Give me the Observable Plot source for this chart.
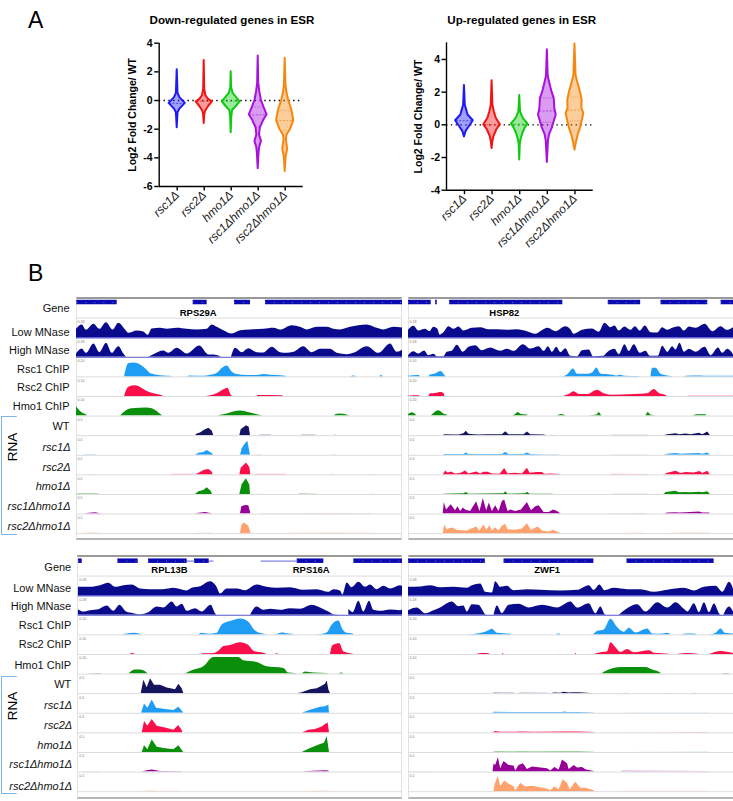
<!DOCTYPE html>
<html><head><meta charset="utf-8">
<script src="https://cdn.jsdelivr.net/npm/d3@7"></script>
<script src="https://cdn.jsdelivr.net/npm/@observablehq/plot@0.6"></script>
<style>
html,body{margin:0;padding:0;background:#fff}
#page{position:relative;width:733px;height:801px;overflow:hidden;font-family:"Liberation Sans",Arial,sans-serif}
.t{position:absolute;white-space:nowrap;color:#000}
.box{position:absolute;box-sizing:border-box;border-top:2px solid #9a9a9a;border-bottom:2px solid #b5b5b5;border-left:1px solid #e2e2e2}
.br{position:absolute;box-sizing:border-box;border:1px solid #7db5e6;border-right:none;border-radius:1px}
svg{position:absolute;background:transparent!important;overflow:visible}
</style></head><body><div id="page"></div>
<script>
// ---------- Panel A values ----------
const genotypes = ["rsc1Δ","rsc2Δ","hmo1Δ","rsc1Δhmo1Δ","rsc2Δhmo1Δ"];
const violinColors = ["#1c1cf2","#f21414","#12c912","#a812dc","#f5870f"];
const downRsc1 = [[2.15,0],[0.5,.03],[0.2,.1],[-0.2,.3],[-0.6,.1],[-0.85,.03],[-1.9,0]];
const downRsc2 = [[2.8,0],[0.8,.02],[0.35,.06],[0.1,.15],[-0.1,.3],[-0.4,.17],[-0.75,.05],[-1.0,.02],[-1.6,0]];
const downHmo1 = [[2,0],[.9,.015],[.5,.07],[.2,.2],[-.1,.33],[-.4,.2],[-.7,.05],[-1.2,.02],[-2.25,0]];
const downR1H = [[3.1,0],[1.2,.02],[.6,.06],[0,.12],[-.5,.22],[-1,.33],[-1.4,.2],[-1.9,.08],[-2.4,.05],[-2.85,.12],[-3.3,.05],[-3.7,.03],[-4.75,0]];
const downR2H = [[2.95,0],[1,.03],[.5,.07],[0,.13],[-.7,.25],[-1.4,.32],[-2,.2],[-2.4,.07],[-2.7,.04],[-3.4,.09],[-4,.03],[-4.95,0]];
const upRsc1 = [[2.4,0],[1.2,.03],[.9,.08],[.6,.13],[.25,.32],[-.1,.18],[-.4,.06],[-.75,0]];
const upRsc2 = [[2.7,0],[1.2,.03],[.8,.08],[.4,.15],[0,.3],[-.3,.17],[-.7,.07],[-1,.03],[-1.45,0]];
const upHmo1 = [[1.8,0],[.8,.03],[.5,.1],[.3,.17],[.05,.3],[-.2,.2],[-.5,.12],[-.9,.05],[-1.2,.02],[-2.15,0]];
const upR1H = [[4.6,0],[3,.03],[2.6,.08],[2,.17],[1.6,.25],[1,.27],[.6,.32],[.2,.25],[-.2,.18],[-.6,.08],[-1,.04],[-2.3,0]];
const upR2H = [[4.95,0],[3,.04],[2.6,.1],[2,.2],[1.5,.26],[1,.25],[.7,.32],[.3,.27],[-.2,.2],[-.6,.12],[-1.1,.05],[-1.55,0]];
// [genotype index, value, half width, kind]
const downQuart = [[0,-.2,.28,"d"],[1,-.05,.28,"d"],[2,-.05,.3,"d"],[3,-1,.33,"d"],[3,-.45,.2,"o"],[3,-1.85,.08,"o"],[4,-1.4,.32,"d"],[4,-.7,.25,"o"],[4,-2.1,.16,"o"]];
const upQuart = [[0,.25,.3,"d"],[1,0,.3,"d"],[2,.05,.3,"d"],[3,.85,.28,"d"],[3,1.65,.24,"o"],[3,.15,.24,"o"],[4,.9,.27,"d"],[4,1.7,.24,"o"],[4,.25,.27,"o"]];

// ---------- Panel B: row names, colours ----------
const trackRows = ["Gene","Low MNase","High MNase","Rsc1 ChIP","Rsc2 ChIP","Hmo1 ChIP","WT","rsc1Δ","rsc2Δ","hmo1Δ","rsc1Δhmo1Δ","rsc2Δhmo1Δ"];
const italicRows = ["rsc1Δ","rsc2Δ","hmo1Δ","rsc1Δhmo1Δ","rsc2Δhmo1Δ"];
const smoothRows = ["Low MNase","High MNase","Rsc1 ChIP","Rsc2 ChIP","Hmo1 ChIP"];
const trackColors = ["#0a0ab0","#0a0a8c","#0a0a8c","#1f9df5","#fb0f4b","#0a8f0a","#14145f","#1f9df5","#fb0f4b","#0a8f0a","#960096","#ffa26e"];
const rangeLabels = ["","0-18","0-18","0-10","0-10","0-10","0-5","0-5","0-5","0-5","0-5","0-5"];

// Signal tracks: flat lists of position, height
const tlLow=[228,25,245,38,258,22,280,40,298,25,318,45,338,23,355,43,375,23,385,13,410,20,430,17,443,7,455,26,480,28,500,25,530,28,560,25,590,23,620,25,635,38,650,31,670,21,695,11,720,21,750,23,790,25,820,28,840,23,875,36,900,31,920,23,950,31,980,31,1000,25,1020,23,1050,31,1100,38,1130,28,1150,23,1180,31,1212,28];
const tlHigh=[228,10,245,25,258,12,280,40,298,14,318,42,335,12,355,32,370,10,378,0,445,0,460,8,490,19,505,12,530,27,560,10,598,34,625,7,640,7,660,2,665,0,693,0,705,27,725,14,745,26,770,14,790,13,815,30,840,14,860,12,880,15,910,32,935,14,960,24,990,24,1010,12,1040,8,1060,12,1100,32,1135,12,1170,40,1190,15,1212,25];
const tlRsc1=[372,0,385,40,400,42,425,33,440,20,450,10,470,5,490,3,510,2,515,0,560,0,570,3,600,2,620,3,650,10,665,25,680,33,695,15,710,7,740,4,770,4,790,7,810,5,850,3,860,0,1050,0,1060,3,1070,0,1138,0,1143,4,1148,0];
const tlRsc2=[372,0,385,28,405,32,420,27,440,15,460,8,485,2,490,0,618,0,650,8,670,20,682,25,693,3,697,0,770,0,772,3,845,2,850,0];
const tlHmo1=[228,28,240,14,258,3,262,0,360,0,375,14,395,22,440,24,465,17,485,2,488,0,650,0,680,6,700,12,720,15,750,9,785,1,790,0,1000,0,1015,6,1045,2,1048,0];
const tlWT=[585,0,590,5,600,8,612,16,625,22,635,14,640,0,718,0,722,18,738,30,746,25,750,0,775,0,780,2,812,2,815,0,900,0,905,2,945,2,948,0,1000,0,1004,3,1008,0];
const tlR1=[250,0,255,2,285,2,290,0,585,0,595,6,610,8,620,14,635,5,640,0,720,0,725,20,735,35,742,42,750,0,770,0,775,2,785,0,998,0,1002,2,1006,0];
const tlR2=[275,0,280,2,285,0,510,0,515,2,580,2,585,0,585,0,600,7,612,14,625,16,635,9,638,0,718,0,722,20,738,36,748,22,751,0,765,0,770,2,855,2,860,0,990,0,995,2,1010,0,1110,0,1113,2,1116,0];
const tlH=[228,0,232,2,295,2,298,0,585,0,595,8,610,12,620,20,632,10,636,0,718,0,725,30,738,47,748,28,750,0,770,0,775,1,785,0,895,0,900,2,950,1,955,0,1110,0,1115,1,1120,0];
const tlR1H=[255,0,260,2,285,4,300,1,302,0,585,0,590,2,615,5,635,1,637,0,720,0,724,22,735,26,745,25,750,5,751,0,780,0,785,1,1000,2,1120,1,1122,0];
const tlR2H=[255,0,260,2,285,3,295,1,297,0,585,0,590,1,635,2,637,0,720,0,724,25,732,32,745,22,751,3,752,0,860,0,865,1,1000,2,1120,1,1122,0];

const trLow=[24,22,40,34,55,20,75,25,88,18,100,31,112,25,118,8,130,15,145,33,160,25,175,32,190,20,215,28,240,30,265,24,290,24,320,22,350,24,380,18,405,10,420,18,442,28,465,18,495,33,510,24,520,10,545,22,575,26,595,16,612,43,630,30,642,35,655,20,672,32,690,22,703,33,718,20,733,35,750,15,770,14,785,30,800,22,815,28,835,33,850,20,865,32,885,28,912,40,935,18,960,33,978,22,997,30];
const trHigh=[24,5,40,17,55,10,72,19,85,5,100,9,110,2,130,2,140,15,155,18,170,36,188,15,205,30,225,35,245,20,270,28,300,18,320,24,340,18,368,38,390,25,415,32,430,18,443,32,455,15,468,30,480,14,495,26,510,3,530,2,545,20,565,22,578,2,608,3,620,14,642,24,655,8,672,38,685,18,700,38,718,12,735,18,748,3,772,3,785,33,800,15,815,32,825,22,837,42,850,15,865,24,885,15,912,30,930,5,952,28,965,12,980,24,997,8];
const trRsc1=[24,2,55,4,60,0,85,0,90,6,105,9,122,16,132,5,136,0,485,0,500,6,518,24,530,8,560,8,575,12,588,27,600,9,630,6,650,3,660,5,670,2,715,1,716,0,750,0,755,26,765,26,780,8,805,2,815,0,850,0,855,2,900,3,920,2,997,2];
const trRsc2=[24,1,55,2,60,0,85,0,90,8,105,9,122,12,130,9,133,0,488,0,505,6,520,14,535,6,560,6,590,19,610,8,630,4,700,6,740,8,760,21,775,9,795,3,800,0,860,0,865,1,997,1];
const trHmo1=[24,4,35,10,48,2,50,0,92,0,100,8,115,16,130,6,142,1,143,0,328,0,345,5,352,11,362,5,380,3,382,0,470,0,482,5,497,0,563,0,578,2,588,3,595,11,602,2,605,0,735,0,742,11,750,3,770,0,875,0,890,4,915,4,917,0];
const trWT=[130,0,131,3,165,2,175,2,190,6,197,13,205,4,220,3,235,2,260,3,290,3,305,3,315,12,325,3,370,3,380,11,390,3,430,2,440,0,450,1,478,0,632,0,633,1,740,1,741,0,788,0,800,3,825,6,835,3,855,5,870,3,895,7,905,3,920,11,928,0];
const trR1=[130,0,131,2,190,2,197,7,205,2,305,2,315,8,325,2,370,2,380,7,390,2,430,1,475,1,476,0,632,0,633,1,740,1,741,0,790,0,800,3,825,5,840,3,855,4,895,5,905,3,920,7,928,0];
const trR2=[128,0,135,12,143,5,152,9,165,3,180,4,195,12,205,3,228,9,240,3,250,8,262,8,275,3,298,2,312,19,322,3,345,5,365,3,380,20,388,5,410,7,425,7,432,2,450,3,478,1,480,0,625,0,635,2,740,1,741,0,790,0,800,5,825,11,840,4,855,7,880,6,897,10,905,4,920,11,928,0];
const trH=[130,0,131,1,190,2,197,6,205,1,310,2,315,8,322,1,375,2,380,7,388,1,455,1,460,0,635,0,636,1,740,1,741,0,790,0,795,6,825,10,835,5,855,6,870,5,897,7,905,5,920,8,928,0];
const trR1H=[128,0,131,35,138,12,152,28,165,10,172,22,180,8,188,18,195,12,210,8,228,37,238,8,248,47,258,10,266,33,275,8,285,25,295,8,305,38,312,42,322,8,330,12,345,8,362,12,380,35,392,10,405,22,415,25,430,5,445,5,458,12,470,8,480,1,482,0,620,0,625,1,735,2,740,0,790,0,800,3,825,4,835,3,855,4,895,6,905,3,925,3,928,0,945,0,950,1,955,0];
const trR2H=[128,0,132,26,140,12,155,17,170,10,185,9,200,8,228,20,238,8,250,27,258,10,268,24,275,8,285,18,295,8,305,22,315,28,322,12,345,10,365,14,380,30,392,10,412,20,425,8,445,5,458,10,470,5,482,0,660,0,680,1,720,2,730,0,790,0,850,3,928,2,930,0];

const blLow=[233,25,270,25,300,30,325,37,345,25,370,30,395,32,420,20,450,18,490,18,520,22,560,14,575,22,600,27,630,42,648,28,660,5,680,20,710,20,735,15,770,32,800,25,830,22,870,24,910,16,950,18,985,10,1000,18,1020,14,1027,2,1040,38,1055,24,1075,40,1095,25,1110,32,1130,18,1150,28,1170,20,1200,30,1212,25];
const blHigh=[233,17,250,10,270,14,295,17,320,28,340,12,358,30,378,10,400,5,420,2,445,8,470,25,490,22,515,40,530,25,545,33,560,12,585,20,605,10,632,30,645,5,650,0,750,0,770,25,790,15,810,18,840,15,870,20,900,18,935,30,960,22,985,10,1000,2,1030,0,1045,18,1058,8,1075,42,1090,10,1107,42,1120,15,1140,12,1170,16,1200,14,1212,20];
const blRsc1=[365,0,380,3,400,5,420,2,422,0,595,0,605,5,625,2,650,5,665,30,690,40,720,48,745,38,762,15,780,4,795,1,797,0,827,0,845,6,865,3,880,1,882,0,950,0,980,6,995,30,1015,42,1028,15,1040,5,1058,3,1060,0];
const blRsc2=[390,0,395,3,405,0,600,0,610,2,640,3,655,10,670,24,690,27,720,35,745,27,760,10,795,2,797,0,825,0,830,2,835,0,990,0,997,26,1018,32,1030,8,1050,2,1060,0];
const blHmo1=[255,0,300,2,303,0,385,0,405,12,420,12,440,3,442,0,555,0,575,10,610,22,640,50,715,50,730,40,770,35,800,22,850,17,865,3,885,2,890,0,905,0,915,6,940,3,980,2,985,0,1015,0,1025,3,1030,0];
const blWT=[422,0,430,40,440,18,450,45,462,25,480,25,500,17,525,12,535,28,545,15,550,0,890,0,905,3,930,12,950,15,965,22,975,28,980,38,985,12,990,0];
const blR1=[423,0,432,28,442,15,455,40,468,15,490,12,520,8,535,18,548,3,550,0,905,0,930,9,960,18,975,20,985,25,987,0];
const blR2=[425,0,432,34,442,20,455,40,470,20,495,15,520,8,535,22,546,5,547,0,905,0,925,8,945,10,965,18,975,25,983,30,987,0];
const blH=[425,0,432,20,442,8,455,38,470,16,490,12,520,8,535,20,548,2,550,0,905,0,925,10,945,18,960,24,972,28,980,48,987,0];
const blR1H=[245,0,250,1,300,1,302,0,425,0,430,2,440,4,455,6,480,2,545,1,546,0,910,0,920,2,960,3,975,4,985,3,987,0];
const blR2H=[425,0,430,1,455,3,470,1,540,1,542,0,915,0,920,1,985,2,987,0];

const brLow=[24,25,60,26,90,30,120,24,160,25,200,22,215,30,240,35,255,10,275,8,285,42,300,25,320,28,340,15,380,18,420,16,480,14,530,16,565,30,580,16,597,32,612,15,640,22,680,18,720,18,760,10,800,16,850,22,880,14,910,25,945,28,965,10,985,40,997,20];
const brHigh=[24,14,50,22,75,5,100,14,120,22,155,40,175,26,190,28,200,10,215,32,235,30,255,2,258,0,280,0,290,28,305,5,325,30,355,33,385,22,425,30,470,22,510,40,530,22,565,35,585,5,600,25,612,3,618,0,655,0,680,20,710,32,735,10,770,38,800,22,825,38,850,18,860,10,880,35,895,8,910,38,925,8,940,34,955,5,960,0,968,0,985,25,997,10];
const brRsc1=[200,0,240,4,260,10,275,17,290,5,330,2,332,0,465,0,475,3,482,0,578,0,590,10,610,15,630,47,650,22,670,8,685,20,705,6,740,18,755,3,780,2,800,5,810,0,840,0,860,3,885,2,890,0,925,0,945,5,960,18,972,5,997,3];
const brRsc2=[228,0,245,3,265,2,268,0,305,0,307,3,310,0,523,0,525,3,528,0,580,0,600,5,620,8,630,35,645,20,660,6,680,15,700,5,745,11,760,4,805,1,807,0,830,0,860,3,890,1,892,0,925,0,960,9,997,3];
const brHmo1=[602,0,625,12,660,20,735,20,755,12,782,1,783,0,962,0,970,2,985,1,987,0];
const brWT=[277,0,280,3,300,2,340,2,345,0,352,0,360,2,440,1,445,0,452,0,460,2,480,1,490,4,505,2,515,3,535,3,560,1,580,0,660,0,680,1,690,0,790,0,800,1,802,0,860,0,885,1,887,0];
const brR1=[277,0,280,3,330,2,400,2,485,2,492,4,500,2,535,2,580,1,582,0,660,0,710,1,925,1,927,0];
const brR2=[277,0,285,4,300,2,345,2,360,3,400,2,490,3,535,3,580,1,582,0,660,0,920,1,925,0];
const brH=[277,0,285,3,340,2,360,3,400,2,490,3,535,3,580,1,582,0,660,0,925,1,926,0];
const brR1H=[24,0,30,1,90,1,92,0,277,0,280,24,285,20,293,43,300,10,310,32,325,20,340,18,345,3,355,20,368,25,380,8,395,15,440,10,450,3,462,14,475,6,485,36,500,25,505,8,520,20,530,12,545,14,555,7,580,2,582,0,660,0,665,3,925,2,927,0];
const brR2H=[280,0,283,20,293,46,300,15,312,32,325,22,340,15,345,3,360,25,375,14,395,16,440,8,450,3,462,14,475,6,487,36,500,25,508,6,525,28,540,10,555,10,580,3,582,0,660,0,665,1,920,1,922,0];

// Gene models
const tlGenes=[[229,350],[578,620],[702,750],[795,1212]];
const trGenes=[[24,92],[105,110],[147,486],[622,719],[780,920],[960,997]];
const blGenes=[[234,245],[352,413],[444,560],[582,626],[890,970],[1060,1212]];
const brGenes=[[24,254],[310,579],[678,939]];
const blIntrons=[[560,582],[626,640],[782,890]];
const tlNames=[["RPS29A",593]];
const trNames=[["HSP82",311]];
const blNames=[["RPL13B",507],["RPS16A",932]];
const brNames=[["ZWF1",439]];

// ---------- drawing ----------
const page=document.getElementById("page");
const add=(el,l,t)=>{el.style.left=l+"px";el.style.top=t+"px";page.append(el);return el;};
function text(s,l,t,css){const d=document.createElement("div");d.className="t";d.textContent=s;d.style.cssText+=css;return add(d,l,t);}
function box(l,t,w,h,right){const d=document.createElement("div");d.className="box";d.style.width=w+"px";d.style.height=h+"px";if(right)d.style.borderRight="1px solid #e2e2e2";return add(d,l,t);}
function bracket(t,h){const d=document.createElement("div");d.className="br";d.style.width="16px";d.style.height=h+"px";return add(d,1,t);}

function violin(series,quarts,opts){
  const rows=series.flatMap((s,i)=>s.map(([y,w])=>({i,y,w,c:violinColors[i]})));
  const q=quarts.map(([i,y,w,k])=>({i,y,w,k,c:violinColors[i]}));
  const p=Plot.plot({
    width:opts.width,height:opts.height,
    marginLeft:opts.left,marginRight:opts.width-opts.right,marginTop:opts.top,marginBottom:opts.height-opts.bottom,
    style:{fontFamily:'"Liberation Sans",Arial,sans-serif',color:"#000"},
    x:{domain:opts.xd,axis:null},
    y:{domain:opts.yd,axis:null},
    color:{type:"identity"},
    marks:[
      Plot.ruleY([0],{stroke:"#000",strokeWidth:1.4,strokeDasharray:"1.4,3.4"}),
      Plot.areaX(rows,{x1:d=>d.i-d.w,x2:d=>d.i+d.w,y:"y",z:"i",fill:"c",fillOpacity:.42,stroke:"c",strokeWidth:2,curve:"linear"}),
      Plot.ruleY(q.filter(d=>d.k=="d"),{y:"y",x1:d=>d.i-d.w,x2:d=>d.i+d.w,stroke:"c",strokeWidth:.7,strokeDasharray:"2,1.5"}),
      Plot.ruleY(q.filter(d=>d.k=="o"),{y:"y",x1:d=>d.i-d.w,x2:d=>d.i+d.w,stroke:"c",strokeWidth:.6,strokeDasharray:"1,1.5"}),
      Plot.ruleX([opts.xd[0]],{stroke:"#000",strokeWidth:1.4}),
      Plot.ruleY([opts.yd[0]],{stroke:"#000",strokeWidth:1.4}),
      Plot.axisY({ticks:opts.yt,tickSize:4.5,tickPadding:2,strokeWidth:1.4,stroke:"#000",fontSize:10.5,fontWeight:"bold",fill:"#000",tickFormat:d=>String(d).replace("−","-"),label:"Log2 Fold Change/ WT",labelAnchor:"center",labelArrow:"none",labelOffset:opts.labelOffset}),
      Plot.axisX({ticks:[0,1,2,3,4],tickSize:4.5,tickPadding:2,strokeWidth:1.4,stroke:"#000",fontSize:12,fontStyle:"italic",fill:"#222",tickRotate:-45,tickFormat:i=>genotypes[i],label:null})
    ]});
  return add(p,opts.x,0);
}

function tracks(signal,genes,introns,names,o){
  const pts=[];
  let island=0;
  signal.forEach((a,k)=>{
    let cur=[];
    const close=()=>{const peak=Math.max(...cur.map(d=>d.h));cur.forEach(d=>{d.faint=k>=5&&peak<=3;pts.push(d);});cur=[];island++;};
    for(let j=0;j<a.length;j+=2){
      cur.push({row:trackRows[k+1],x:a[j],h:a[j+1],c:trackColors[k+1],id:island});
      if(a[j+1]===0&&cur.length>1)close();
    }
    if(cur.length)close();
  });
  const gene=trackRows[0];
  const yTop=58.8, rowPx=19.6;
  const labels=trackRows.map((r,i)=>({r,lift:o.lift[i]}));
  const plain=labels.filter(d=>!italicRows.includes(d.r)), ital=labels.filter(d=>italicRows.includes(d.r));
  const rng=trackRows.map((r,i)=>({r,s:rangeLabels[i]})).filter(d=>d.s);
  const smooth=pts.filter(d=>smoothRows.includes(d.row));
  const jagged=pts.filter(d=>!smoothRows.includes(d.row)&&!d.faint);
  const faint=pts.filter(d=>d.faint);
  const marks=[
    Plot.ruleY([0],{stroke:"#dcdcdc",strokeWidth:1}),
    Plot.ruleY([0],{fy:()=>trackRows[1],stroke:"#6464dc",strokeWidth:1.4}),
    Plot.ruleY([0],{fy:()=>trackRows[2],stroke:"#6464dc",strokeWidth:1}),
    Plot.area(smooth,{x1:"x",y1:()=>0,y2:"h",fy:"row",z:"id",fill:"c",curve:"monotone-x",clip:true}),
    Plot.area(jagged,{x1:"x",y1:()=>0,y2:"h",fy:"row",z:"id",fill:"c",curve:"linear",clip:true}),
    Plot.area(faint,{x1:"x",y1:()=>0,y2:"h",fy:"row",z:"id",fill:"c",fillOpacity:.4,curve:"linear",clip:true}),
    Plot.ruleY(introns,{fy:()=>gene,x1:d=>d[0],x2:d=>d[1],y:()=>o.barMid,stroke:"#3c3cd0",strokeWidth:.8}),
    Plot.rect(genes,{fy:()=>gene,x1:d=>d[0],x2:d=>d[1],y1:()=>o.barMid-7,y2:()=>o.barMid+6.5,fill:trackColors[0],clip:true}),
    Plot.ruleY(genes,{fy:()=>gene,x1:d=>d[0],x2:d=>d[1],y:()=>o.barMid,stroke:"#8f9cf0",strokeWidth:.7,strokeDasharray:"1,8",clip:true}),
    Plot.text(names,{fy:()=>gene,x:d=>d[1],y:()=>o.nameY,text:d=>d[0],fontWeight:"bold",fontSize:9.5,fill:"#000"}),
    Plot.text(rng,{fy:"r",frameAnchor:"top-left",dx:1,dy:2.5,text:"s",fontSize:3.5,fill:"#777",textAnchor:"start"})
  ];
  if(o.labelled){
    marks.push(
      Plot.text(plain,{fy:"r",x:()=>o.xd[0],y:"lift",dx:-7,text:"r",textAnchor:"end",fontSize:11,fill:"#111"}),
      Plot.text(ital,{fy:"r",x:()=>o.xd[0],y:"lift",dx:-6,text:"r",textAnchor:"end",fontSize:11,fontStyle:"italic",fill:"#111"})
    );
  }
  const p=Plot.plot({
    width:o.right-o.x,height:rowPx*12,
    marginLeft:o.left-o.x,marginRight:0,marginTop:0,marginBottom:0,
    style:{fontFamily:'"Liberation Sans",Arial,sans-serif',color:"#000"},
    x:{domain:o.xd,axis:null},
    y:{domain:[0,yTop],axis:null},
    fy:{domain:trackRows,padding:0,axis:null,round:false},
    color:{type:"identity"},
    marks});
  return add(p,o.x,o.top);
}

// Panel A
text("A",28,4,"font-size:23px;line-height:32px;");
text("Down-regulated genes in ESR",232,13,"font-size:11.6px;font-weight:bold;line-height:14px;transform:translateX(-50%);");
text("Up-regulated genes in ESR",521.7,13,"font-size:11.6px;font-weight:bold;line-height:14px;transform:translateX(-50%);");
violin([downRsc1,downRsc2,downHmo1,downR1H,downR2H],downQuart,{x:0,width:366,height:262,left:158.7,right:302.7,top:42.7,bottom:186,xd:[-.667,4.667],yd:[-6,4],yt:[-6,-4,-2,0,2,4],labelOffset:31});
violin([upRsc1,upRsc2,upHmo1,upR1H,upR2H],upQuart,{x:366,width:367,height:262,left:80,right:226.7,top:42.3,bottom:189.7,xd:[-.65,4.66],yd:[-4,5.02],yt:[-4,-2,0,2,4],labelOffset:32});

// Panel B
text("B",28,257,"font-size:23px;line-height:32px;");
box(76,297,326,243,true); box(408,297,325,243,false);
box(77,555,325,244,true); box(408,555,325,244,false);
bracket(416,119); bracket(676,118);
text("RNA",12.7,446.7,"font-size:13.5px;line-height:14px;transform:translate(-50%,-50%) rotate(-90deg);");
text("RNA",12.7,706,"font-size:13.5px;line-height:14px;transform:translate(-50%,-50%) rotate(-90deg);");

tracks([tlLow,tlHigh,tlRsc1,tlRsc2,tlHmo1,tlWT,tlR1,tlR2,tlH,tlR1H,tlR2H],tlGenes,[],tlNames,{x:0,left:76,right:402,top:297.8,xd:[228,1206],barMid:47,nameY:14,labelled:true,lift:[29,17,20,22,26,28,28,22,23,23,23,21]});
tracks([trLow,trHigh,trRsc1,trRsc2,trHmo1,trWT,trR1,trR2,trH,trR1H,trR2H],trGenes,[],trNames,{x:408,left:408,right:733,top:297.8,xd:[24,997],barMid:47,nameY:14,labelled:false,lift:[]});
tracks([blLow,blHigh,blRsc1,blRsc2,blHmo1,blWT,blR1,blR2,blH,blR1H,blR2H],blGenes,blIntrons,blNames,{x:0,left:77.7,right:402,top:556.3,xd:[233,1206],barMid:45,nameY:17,labelled:true,lift:[27,22,26,29,29,27,28,23,23,20,22,16]});
tracks([brLow,brHigh,brRsc1,brRsc2,brHmo1,brWT,brR1,brR2,brH,brR1H,brR2H],brGenes,[],brNames,{x:408,left:408,right:733,top:556.3,xd:[24,997],barMid:45,nameY:17,labelled:false,lift:[]});
</script></body></html>
